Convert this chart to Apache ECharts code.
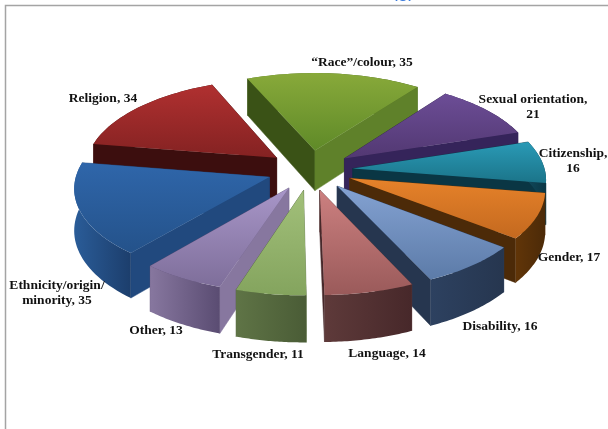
<!DOCTYPE html>
<html>
<head>
<meta charset="utf-8">
<style>html,body{margin:0;padding:0;background:#fff}#chart{width:608px;height:429px;filter:blur(0.4px)}</style>
<script src="https://cdn.jsdelivr.net/npm/echarts@6/dist/echarts.min.js"></script>
</head>
<body>
<div id="chart"></div>
<script>
// chart data, clockwise from the green slice
const categories = ['“Race”/colour', 'Sexual orientation', 'Citizenship', 'Gender', 'Disability', 'Language', 'Transgender', 'Other', 'Ethnicity/origin/\nminority', 'Religion'];
const values = [35, 21, 16, 17, 16, 14, 11, 13, 35, 34];
const topLight = ['#88a93a', '#6c4d96', '#2a9ab6', '#e6822a', '#84a2d2', '#cc8080', '#a2c07a', '#a896c8', '#2f66aa', '#b03030'];
const topDark = ['#5f8a28', '#523872', '#1b7489', '#c4691f', '#5c7ba8', '#9a5a5a', '#84a45e', '#7e6e9a', '#24528a', '#842222'];
const wallDark = ['#3a5216', '#2a1c46', '#0a3644', '#4c2a08', '#26364f', '#47282a', '#4a5c36', '#5a4c72', '#1c3e6c', '#3c0e0e'];
const wallLight = ['#5f812a', '#35245a', '#10485a', '#613508', '#2d4160', '#5e3a3a', '#5f7446', '#87779f', '#21497e', '#4a1414'];

// projection settings
const cx = 310, cy = 170;      // pie centre on the top face
const R = 192, tilt = 0.466;   // radius, vertical squash
const persp = 0.105;           // far side smaller, near side larger
const explode = 43, depth = 41;
const startDeg = -23;

// label anchors (centre of the text block)
const labelPos = [[362, 63], [533, 107], [573, 161], [569, 258], [500, 327], [387, 354], [258, 355], [156, 331], [57, 293], [103, 99]];

const total = values.reduce((a, b) => a + b, 0);
let acc = startDeg;
const slices = values.map((v, i) => {
  const a0 = acc * Math.PI / 180;
  acc += v / total * 360;
  const a1 = acc * Math.PI / 180;
  return { i, a0, a1, mid: (a0 + a1) / 2 };
});
// back to front
const drawOrder = slices.slice().sort((a, b) => Math.cos(b.mid) - Math.cos(a.mid));

function project(x, d, z) {
  const s = 1 / (1 + persp * d / R);
  return [cx + x * s, cy - d * tilt * s + z * s];
}

function poly(points, fill) {
  return { type: 'polygon', shape: { points }, style: { fill, stroke: typeof fill === 'string' ? fill : 'none', lineWidth: 0.5 } };
}

function renderSlice(params) {
  const sl = drawOrder[params.dataIndex];
  const i = sl.i;
  const ox = explode * Math.sin(sl.mid), od = explode * Math.cos(sl.mid);
  const pt = (r, a, z) => project(ox + r * Math.sin(a), od + r * Math.cos(a), z);
  const steps = 32;
  const arcTop = [], arcBottom = [];
  for (let k = 0; k <= steps; k++) {
    const a = sl.a0 + (sl.a1 - sl.a0) * k / steps;
    arcTop.push(pt(R, a, 0));
    arcBottom.unshift(pt(R, a, depth));
  }
  const outer = poly(arcTop.concat(arcBottom), new echarts.graphic.LinearGradient(0, 0, 1, 0, [
    { offset: 0, color: i === 8 ? '#2a5c98' : wallLight[i] },
    { offset: 1, color: wallDark[i] }
  ]));
  // the two cut walls, far one first
  const cuts = [sl.a0, sl.a1].map(a => {
    const facesRight = Math.sin(a === sl.a0 ? a - Math.PI / 2 : a + Math.PI / 2) > 0;
    return {
      d: Math.cos(a),
      el: poly([pt(0, a, 0), pt(R, a, 0), pt(R, a, depth), pt(0, a, depth)], facesRight ? wallLight[i] : wallDark[i])
    };
  }).sort((p, q) => q.d - p.d).map(c => c.el);
  // hidden faces go first, the top always last
  const children = Math.cos(sl.mid) > 0.3 ? [outer].concat(cuts) : cuts.concat([outer]);
  children.push(poly([pt(0, 0, 0)].concat(arcTop), new echarts.graphic.LinearGradient(0, 0, 0, 1, [
    { offset: 0, color: topLight[i] },
    { offset: 1, color: topDark[i] }
  ])));
  return { type: 'group', children };
}

const myChart = echarts.init(document.getElementById('chart'), null, { renderer: 'canvas' });

const labelTexts = categories.map((name, i) => {
  const wraps = name === 'Sexual orientation' || name === 'Citizenship';
  return {
    type: 'text',
    x: labelPos[i][0],
    y: labelPos[i][1],
    z: 10,
    style: {
      text: name + (wraps ? ',\n' : ', ') + values[i],
      fontFamily: '"Liberation Serif", serif',
      fontWeight: 'bold',
      fontSize: 13.5,
      lineHeight: 15,
      align: 'center',
      verticalAlign: 'middle',
      fill: '#111'
    }
  };
});

myChart.setOption({
  animation: false,
  backgroundColor: '#fff',
  graphic: [
    { type: 'polyline', shape: { points: [[5.5, 429], [5.5, 5.5], [608, 5.5]] }, style: { stroke: '#a4a4a4', lineWidth: 1.5, fill: 'none' } },
    // only the bottom of the cropped heading is left in the picture
    { type: 'text', x: 403, y: -8, style: { text: '(g)', fontFamily: '"Liberation Sans", sans-serif', fontSize: 19, fill: '#3b7bdc', align: 'center', verticalAlign: 'middle' } }
  ].concat(labelTexts),
  series: [{
    type: 'custom',
    coordinateSystem: 'none',
    renderItem: renderSlice,
    data: drawOrder.map(s => values[s.i]),
    silent: true
  }]
});
</script>
</body>
</html>
